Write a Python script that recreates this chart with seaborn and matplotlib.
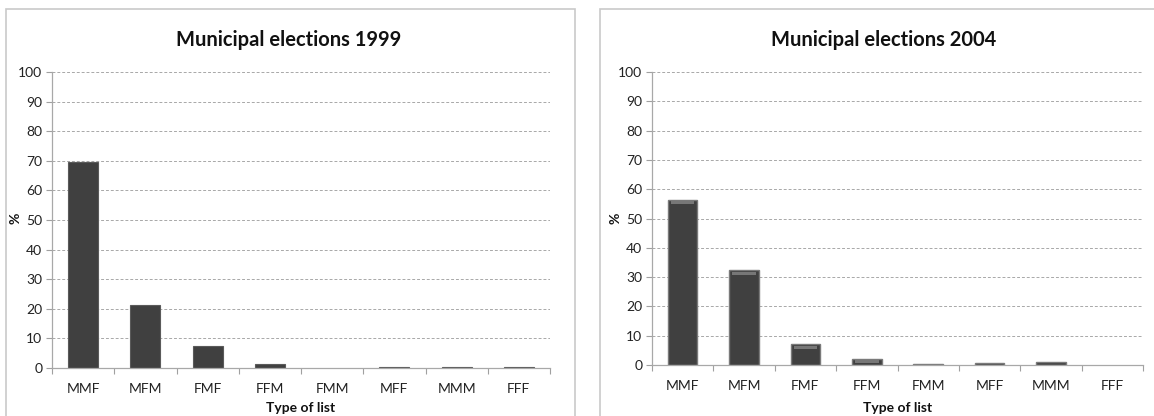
import matplotlib
matplotlib.use("Agg")
import matplotlib.pyplot as plt
from matplotlib.patches import Rectangle
import seaborn as sns
import pandas as pd

list_types = ["MMF", "MFM", "FMF", "FFM", "FMM", "MFF", "MMM", "FFF"]
share_1999 = [69.7, 21.2, 7.3, 1.4, 0.0, 0.3, 0.3, 0.3]
share_2004 = [56.3, 32.3, 7.0, 2.1, 0.3, 0.6, 0.9, 0.0]
y_ticks = [0, 10, 20, 30, 40, 50, 60, 70, 80, 90, 100]
titles = ["Municipal elections 1999", "Municipal elections 2004"]

sns.set_theme(style="white")
plt.rcParams["font.family"] = ["Lato", "DejaVu Sans"]

fig = plt.figure(figsize=(11.54, 4.16), dpi=100)
W, H = 1154, 416

# chart frames
for x0, x1 in [(6, 575), (600, 1170)]:
    fig.add_artist(Rectangle((x0 / W, -0.1), (x1 - x0) / W, (H - 9) / H + 0.1,
                             transform=fig.transFigure, fill=False,
                             edgecolor="#c9c9c9", linewidth=1.2))

panels = [
    dict(vals=share_1999, rect=(52, 550, 72, 368), title_x=289, bevel=False),
    dict(vals=share_2004, rect=(652, 1143, 72, 365), title_x=884, bevel=True),
]

for p, title in zip(panels, titles):
    xl, xr, yt, yb = p["rect"]
    ax = fig.add_axes([xl / W, (H - yb) / H, (xr - xl) / W, (yb - yt) / H])
    df = pd.DataFrame({"type": list_types, "pct": p["vals"]})
    sns.barplot(data=df, x="type", y="pct", ax=ax, color="#404040",
                saturation=1, width=0.48,
                edgecolor="#7a7a7a" if p["bevel"] else "#5a5a5a",
                linewidth=1.0 if p["bevel"] else 0.8)
    for bar in ax.patches:
        h = bar.get_height()
        if h <= 0:
            bar.set_visible(False)
            continue
        if p["bevel"] and h >= 1.2:
            # light bevel band just under the top of the bar
            ax.add_patch(Rectangle((bar.get_x() + bar.get_width() * 0.1, h - 1.5),
                                   bar.get_width() * 0.8, 1.1,
                                   facecolor="#777777", edgecolor="none", zorder=3))
    ax.set_ylim(0, 100)
    ax.set_xlim(-0.5, len(list_types) - 0.5)
    ax.set_yticks(y_ticks)
    ax.set_yticklabels([str(t) for t in y_ticks], fontsize=10, color="#222222")
    ax.set_xticks(range(len(list_types)))
    ax.set_xticklabels(list_types, fontsize=10, color="#222222")
    ax.set_xticks([i - 0.5 for i in range(len(list_types) + 1)], minor=True)
    ax.tick_params(axis="x", which="major", length=0, pad=11)
    ax.tick_params(axis="x", which="minor", length=4, width=0.8, color="#a0a0a0",
                   direction="out", bottom=True)
    ax.tick_params(axis="y", length=4, width=0.8, color="#a0a0a0", direction="out",
                   left=True, pad=3)
    ax.yaxis.grid(True, linestyle=(0, (3, 2)), color="#a8a8a8", linewidth=0.7)
    ax.set_axisbelow(True)
    for s in ["top", "right"]:
        ax.spines[s].set_visible(False)
    for s in ["left", "bottom"]:
        ax.spines[s].set_color("#a8a8a8")
        ax.spines[s].set_linewidth(0.9)
    ax.set_xlabel("")
    ax.set_ylabel("")
    fig.text(p["title_x"] / W, (H - 40) / H, title, ha="center", va="center",
             fontsize=14.5, fontweight="bold", color="#111111")
    fig.text(((xl + xr) / 2) / W, (H - 408) / H, "Type of list", ha="center",
             va="center", fontsize=10, fontweight="bold", color="#111111")
    fig.text((xl - 36) / W, (H - 218) / H, "%", rotation=90, ha="center",
             va="center", fontsize=10, fontweight="bold", color="#111111")

fig.savefig("out.png", dpi=100, facecolor="white")
